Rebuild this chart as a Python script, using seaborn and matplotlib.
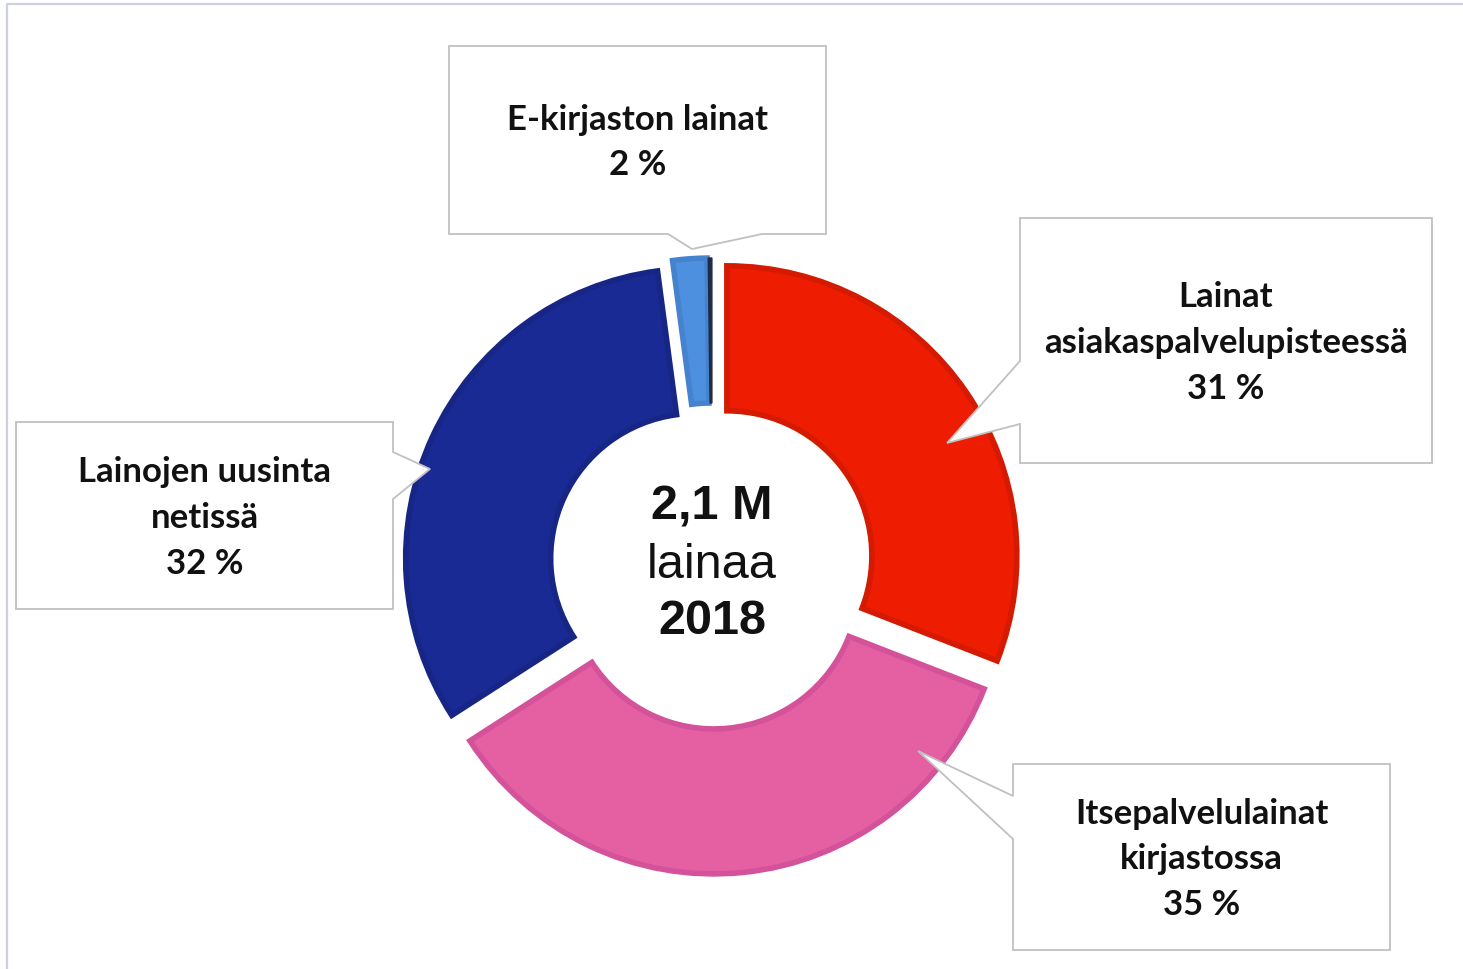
import matplotlib
matplotlib.use("Agg")
import matplotlib.pyplot as plt
import seaborn as sns
from matplotlib.patches import Polygon

# --- data ---
categories = ["Lainat\nasiakaspalvelupisteessä", "Itsepalvelulainat\nkirjastossa",
              "Lainojen uusinta\nnetissä", "E-kirjaston lainat", "Muut"]
shares = [30.9, 35.0, 32.0, 1.9, 0.2]
share_labels = ["31 %", "35 %", "32 %", "2 %", None]
colors = ["#EE1C00", "#E55FA3", "#1A2A94", "#4E90E0", "#1F2A44"]
edge_colors = ["#D41A00", "#D4529A", "#172585", "#4683CF", "#1F2A44"]
center_lines = ["2,1 M", "lainaa", "2018"]

W, H = 1463, 970
sns.set_theme(style="white")
plt.rcParams["font.family"] = ["Lato", "DejaVu Sans"]

fig = plt.figure(figsize=(W / 100, H / 100), dpi=100)
ax = fig.add_axes([0, 0, 1, 1])
ax.set_xlim(0, W)
ax.set_ylim(0, H)
ax.set_aspect("equal")
ax.axis("off")

def py(y):
    # reference pixel rows -> axes y (up)
    return H - y

# --- donut (explode is in data units here, i.e. pixels) ---
cx, cy, R = 712, py(567), 290
wedges, _ = ax.pie(shares, colors=colors, startangle=90, counterclock=False,
                   radius=R, center=(cx, cy), explode=[18] * len(shares),
                   wedgeprops=dict(width=R * 0.5, linewidth=4))
for w, ec in zip(wedges, edge_colors):
    w.set_edgecolor(ec)
wedges[-1].set_linewidth(1)
ax.set_xlim(0, W)
ax.set_ylim(0, H)

# center text
ax.text(cx, py(507), center_lines[0], ha="center", va="center", fontsize=35,
        fontweight="bold", family="Liberation Sans", color="#111111")
ax.text(cx, py(565), center_lines[1], ha="center", va="center", fontsize=35,
        family="Liberation Sans", color="#111111")
ax.text(cx, py(622), center_lines[2], ha="center", va="center", fontsize=35,
        fontweight="bold", family="Liberation Sans", color="#111111")

# --- callout boxes (layout in reference pixels) ---
def callout(x0, y0, x1, y1, side, b1, b2, tip):
    if side == "bottom":
        pts = [(x0, y0), (x1, y0), (x1, y1), (b2, y1), tip, (b1, y1), (x0, y1)]
    elif side == "left":
        pts = [(x0, y0), (x1, y0), (x1, y1), (x0, y1), (x0, b2), tip, (x0, b1)]
    elif side == "right":
        pts = [(x0, y0), (x1, y0), (x1, b1), tip, (x1, b2), (x1, y1), (x0, y1)]
    else:
        pts = [(x0, y0), (b1, y0), tip, (b2, y0), (x1, y0), (x1, y1), (x0, y1)]
    pts = [(x, py(y)) for x, y in pts]
    ax.add_patch(Polygon(pts, closed=True, facecolor="white", edgecolor="#C0C0C0",
                         linewidth=1.3, zorder=5))

boxes = [
    (1020, 219, 1432, 464, "left", 362, 425, (947, 444)),
    (1013, 765, 1390, 951, "left", 797, 840, (918, 752)),
    (16, 423, 393, 610, "right", 453, 500, (430, 470)),
    (449, 47, 826, 235, "bottom", 668, 762, (692, 250)),
]
for (x0, y0, x1, y1, side, b1, b2, tip), cat, lab in zip(boxes, categories, share_labels):
    callout(x0, y0, x1, y1, side, b1, b2, tip)
    ax.text((x0 + x1) / 2, py((y0 + y1) / 2 + 1.5), cat + "\n" + lab, ha="center",
            va="center", fontsize=25, fontweight="bold", color="#111111",
            linespacing=1.52, zorder=6)

# thin frame at top and left
ax.plot([7, 7, W], [0, py(5), py(5)], color="#CDD1DD", linewidth=1.6, zorder=7)

fig.savefig("out.png", dpi=100)
